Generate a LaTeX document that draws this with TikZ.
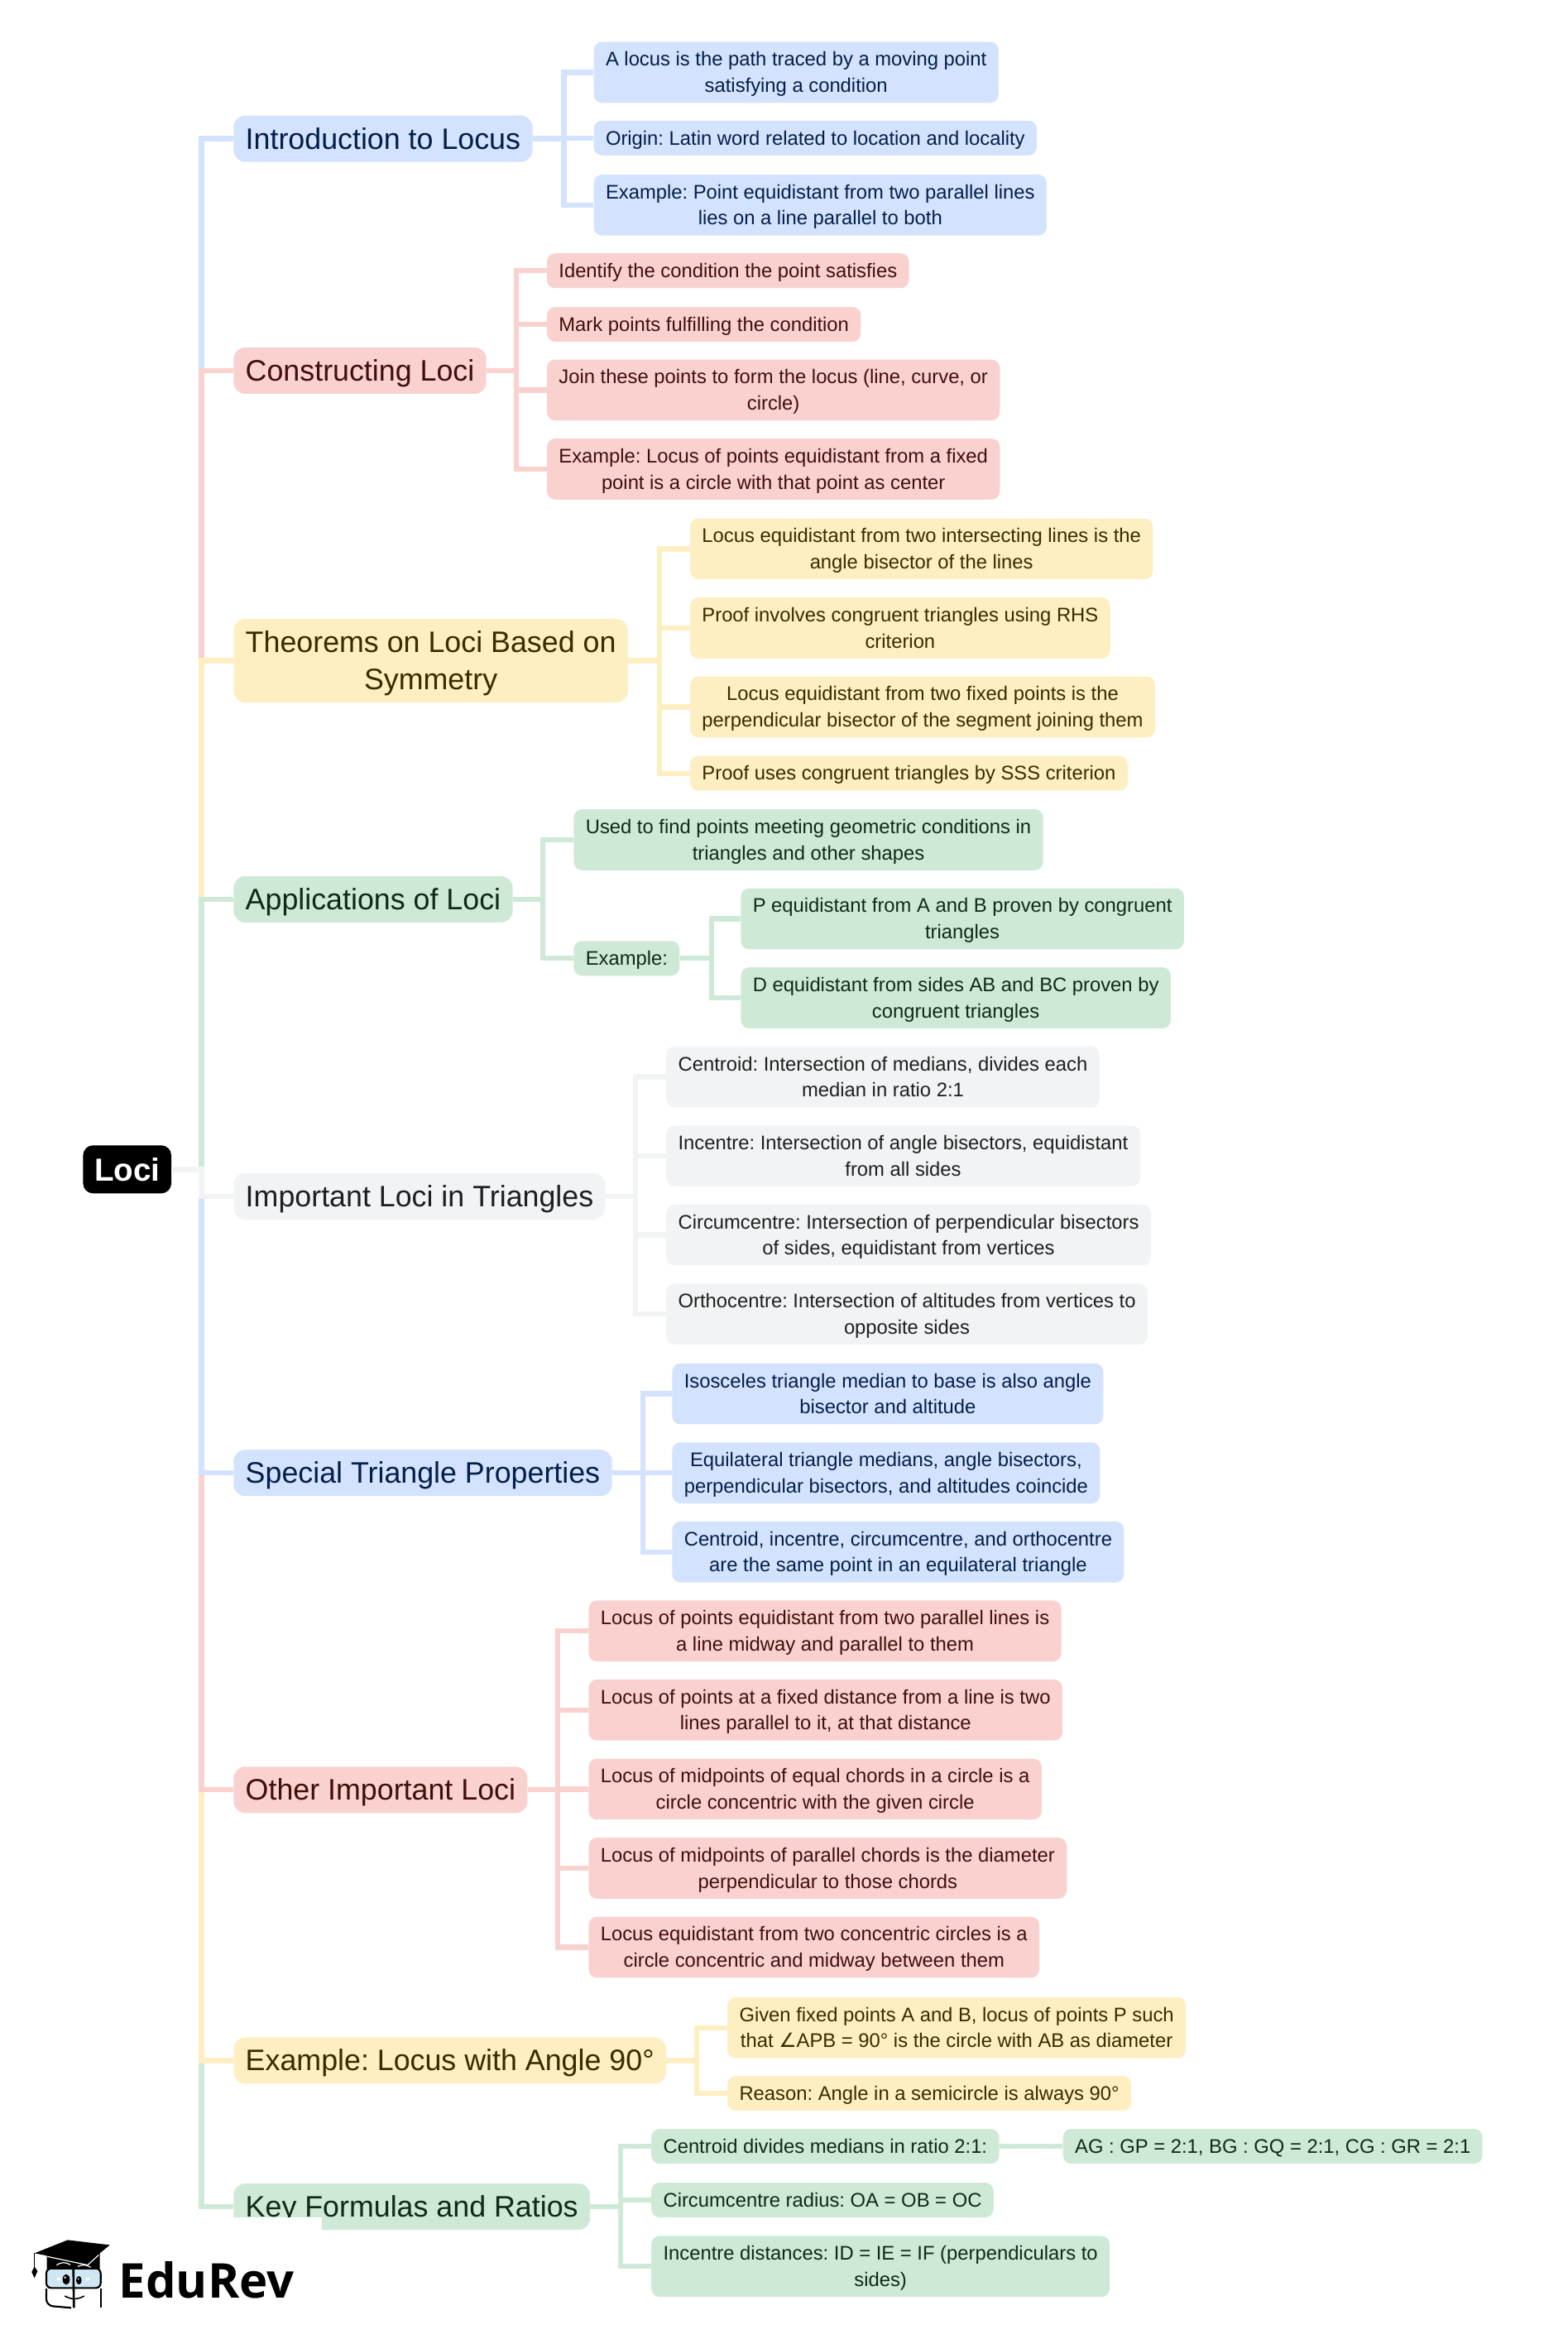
\documentclass[tikz,border=0pt]{standalone}
\usepackage{fontspec}
\setmainfont{Liberation Sans}
\newfontfamily\symfont{DejaVu Sans}
\newfontfamily\logofont{Open Sans}
\definecolor{lblue}{HTML}{D3E3FD}
\definecolor{lred}{HTML}{F9D2CF}
\definecolor{lyellow}{HTML}{FEEFC3}
\definecolor{lgreen}{HTML}{CEEAD6}
\definecolor{lgray}{HTML}{F1F3F4}
\definecolor{tblue}{HTML}{041E49}
\definecolor{tred}{HTML}{410E0B}
\definecolor{tyellow}{HTML}{3A2A00}
\definecolor{tgreen}{HTML}{0D2B17}
\definecolor{tgray}{HTML}{1F1F1F}
\definecolor{lens}{HTML}{CFE6F5}
\newcommand{\linestrut}{\rule[\dimexpr-.5\baselineskip+.3465em\relax]{0pt}{\baselineskip}}
\frenchspacing
\begin{document}
\begin{tikzpicture}[x=0.90135pt, y=-0.90135pt,
  rootnode/.style = {fill=black, text=white, rounded corners=6pt, anchor=west, font=\fontsize{19.3}{23}\selectfont\bfseries, inner xsep=6.8pt, minimum height=29pt},
  stem/.style = {execute at begin node=\linestrut, execute at end node=\linestrut},
  main/.style = {stem, rounded corners=7pt, anchor=west, align=center, inner xsep=7.2pt, inner ysep=2.7pt, font=\fontsize{17.9}{22.6}\selectfont},
  leaf/.style = {stem, rounded corners=5pt, anchor=west, align=center, xshift=-0.5pt, inner xsep=7.2pt, inner ysep=2.6pt, font=\fontsize{11.9}{15.8}\selectfont},
  dleaf/.style = {leaf, text height=27.86pt},
  bluebox/.style = {fill=lblue, text=tblue},
  redbox/.style = {fill=lred, text=tred},
  yellowbox/.style = {fill=lyellow, text=tyellow},
  greenbox/.style = {fill=lgreen, text=tgreen},
  graybox/.style = {fill=lgray, text=tgray},
  link/.style = {line width=3.2pt}]
\useasboundingbox (0,0) rectangle (1051.2,1568.2);
\node[rootnode] (loci) at (55.5,784) {Loci};
% first branch
\node[main, bluebox] (intro) at (156.4,93) {Introduction to Locus};
\node[dleaf, bluebox] (intro1) at (398.4,48.5) {A locus is the path traced by a moving point\\satisfying a condition};
\node[leaf, bluebox] (intro2) at (398.4,92.5) {Origin: Latin word related to location and locality};
\node[dleaf, bluebox] (intro3) at (398.4,137.5) {Example: Point equidistant from two parallel lines\\lies on a line parallel to both};
% second branch
\node[main, redbox] (cons) at (156.4,248.5) {Constructing Loci};
\node[leaf, redbox] (cons1) at (367,181.5) {Identify the condition the point satisfies};
\node[leaf, redbox] (cons2) at (367,217.5) {Mark points fulfilling the condition};
\node[dleaf, redbox] (cons3) at (367,261.5) {Join these points to form the locus (line, curve, or\\circle)};
\node[dleaf, redbox] (cons4) at (367,314.5) {Example: Locus of points equidistant from a fixed\\point is a circle with that point as center};
% third branch
\node[main, yellowbox, text height=40.1pt] (theo) at (156.4,443) {Theorems on Loci Based on\\Symmetry};
\node[dleaf, yellowbox] (theo1) at (463,368) {Locus equidistant from two intersecting lines is the\\angle bisector of the lines};
\node[dleaf, yellowbox] (theo2) at (463,421) {Proof involves congruent triangles using RHS\\criterion};
\node[dleaf, yellowbox] (theo3) at (463,474) {Locus equidistant from two fixed points is the\\perpendicular bisector of the segment joining them};
\node[leaf, yellowbox] (theo4) at (463,518.5) {Proof uses congruent triangles by SSS criterion};
% fourth branch
\node[main, greenbox] (appl) at (156.4,603) {Applications of Loci};
\node[dleaf, greenbox] (appl1) at (385,563) {Used to find points meeting geometric conditions in\\triangles and other shapes};
\node[leaf, greenbox] (appl2) at (385,642.5) {Example:};
\node[dleaf, greenbox] (appl3) at (497,616) {P equidistant from A and B proven by congruent\\triangles};
\node[dleaf, greenbox] (appl4) at (497,669) {D equidistant from sides AB and BC proven by\\congruent triangles};
% fifth branch
\node[main, graybox] (tria) at (156.4,802) {Important Loci in Triangles};
\node[dleaf, graybox] (tria1) at (447,722) {Centroid: Intersection of medians, divides each\\median in ratio 2:1};
\node[dleaf, graybox] (tria2) at (447,775) {Incentre: Intersection of angle bisectors, equidistant\\from all sides};
\node[dleaf, graybox] (tria3) at (447,828) {Circumcentre: Intersection of perpendicular bisectors\\of sides, equidistant from vertices};
\node[dleaf, graybox] (tria4) at (447,881) {Orthocentre: Intersection of altitudes from vertices to\\opposite sides};
% sixth branch
\node[main, bluebox] (spec) at (156.4,987.5) {Special Triangle Properties};
\node[dleaf, bluebox] (spec1) at (451,934.5) {Isosceles triangle median to base is also angle\\bisector and altitude};
\node[dleaf, bluebox] (spec2) at (451,987.5) {Equilateral triangle medians, angle bisectors,\\perpendicular bisectors, and altitudes coincide};
\node[dleaf, bluebox] (spec3) at (451,1040.5) {Centroid, incentre, circumcentre, and orthocentre\\are the same point in an equilateral triangle};
% seventh branch
\node[main, redbox] (other) at (156.4,1200) {Other Important Loci};
\node[dleaf, redbox] (other1) at (395,1093.5) {Locus of points equidistant from two parallel lines is\\a line midway and parallel to them};
\node[dleaf, redbox] (other2) at (395,1146.5) {Locus of points at a fixed distance from a line is two\\lines parallel to it, at that distance};
\node[dleaf, redbox] (other3) at (395,1199.5) {Locus of midpoints of equal chords in a circle is a\\circle concentric with the given circle};
\node[dleaf, redbox] (other4) at (395,1252.5) {Locus of midpoints of parallel chords is the diameter\\perpendicular to those chords};
\node[dleaf, redbox] (other5) at (395,1305.5) {Locus equidistant from two concentric circles is a\\circle concentric and midway between them};
% eighth branch
\node[main, yellowbox] (angle) at (156.4,1381.5) {Example: Locus with Angle 90°};
\node[dleaf, yellowbox] (angle1) at (488,1359.5) {Given fixed points A and B, locus of points P such\\that {\symfont ∠}APB = 90° is the circle with AB as diameter};
\node[leaf, yellowbox] (angle2) at (488,1403.5) {Reason: Angle in a semicircle is always 90°};
% ninth branch
\node[main, greenbox] (form) at (156.4,1479.5) {Key Formulas and Ratios};
\node[leaf, greenbox] (form1) at (437,1439) {Centroid divides medians in ratio 2:1:};
\node[leaf, greenbox] (form2) at (713,1439) {AG : GP = 2:1, BG : GQ = 2:1, CG : GR = 2:1};
\node[leaf, greenbox] (form3) at (437,1475) {Circumcentre radius: OA = OB = OC};
\node[dleaf, greenbox] (form4) at (437,1519.5) {Incentre distances: ID = IE = IF (perpendiculars to\\sides)};
% trunk and buses
\coordinate (trunk) at (135,784);
\coordinate (introbus) at (378,93);
\coordinate (consbus) at (346,248.5);
\coordinate (theobus) at (442,443);
\coordinate (applbus) at (364,603);
\coordinate (exbus) at (477,642.5);
\coordinate (triabus) at (426,802);
\coordinate (specbus) at (431,987.5);
\coordinate (otherbus) at (374,1200);
\coordinate (anglebus) at (467,1381.5);
\coordinate (formbus) at (416,1479.5);
% later links lie over earlier ones
\foreach \kid/\col in {intro/lblue, cons/lred, theo/lyellow, appl/lgreen, form/lgreen, angle/lyellow, other/lred, spec/lblue, tria/lgray}
  \draw[link, \col] (loci.east) -- (trunk) |- (\kid.west);
\foreach \kid in {intro1, intro2, intro3}
  \draw[link, lblue] (intro.east) -- (introbus) |- (\kid.west);
\foreach \kid in {cons1, cons2, cons3, cons4}
  \draw[link, lred] (cons.east) -- (consbus) |- (\kid.west);
\foreach \kid in {theo1, theo2, theo3, theo4}
  \draw[link, lyellow] (theo.east) -- (theobus) |- (\kid.west);
\foreach \kid in {appl1, appl2}
  \draw[link, lgreen] (appl.east) -- (applbus) |- (\kid.west);
\foreach \kid in {appl3, appl4}
  \draw[link, lgreen] (appl2.east) -- (exbus) |- (\kid.west);
\foreach \kid in {tria1, tria2, tria3, tria4}
  \draw[link, lgray] (tria.east) -- (triabus) |- (\kid.west);
\foreach \kid in {spec1, spec2, spec3}
  \draw[link, lblue] (spec.east) -- (specbus) |- (\kid.west);
\foreach \kid in {other1, other2, other3, other4, other5}
  \draw[link, lred] (other.east) -- (otherbus) |- (\kid.west);
\foreach \kid in {angle1, angle2}
  \draw[link, lyellow] (angle.east) -- (anglebus) |- (\kid.west);
\foreach \kid in {form1, form3, form4}
  \draw[link, lgreen] (form.east) -- (formbus) |- (\kid.west);
\draw[link, lgreen] (form1) -- (form2);
% logo patch
\fill[white] (0,1486.6) rectangle (215.6,1560.6);
\begin{scope}[shift={(16.64,1492.2)}, x=0.16666pt, y=-0.16666pt]
\fill[black] (80,105) -- (272,100) -- (272,158) -- (80,158) -- cycle;
\fill[black] (35,100) -- (155,52) -- (308,70) -- (228,137) -- cycle;
\draw[white, line width=0.6pt] (82,112) -- (228,143) -- (268,106);
\draw[white, line width=0.6pt] (115,143) to[bend left=35] (165,142);
\draw[white, line width=0.6pt] (192,148) to[bend left=30] (240,152);
\draw[line width=0.7pt] (35,100) -- (35,155);
\fill[black] (35,148) -- (46,165) -- (35,190) -- (25,168) -- cycle;
\draw[fill=lens, line width=1.1pt, rounded corners=3pt] (78,155) rectangle (275,226);
\draw[line width=1.1pt, rounded corners=4pt] (78,228) -- (78,290) -- (168,298);
\draw[line width=1.1pt, rounded corners=3pt] (275,228) -- (275,298);
\draw[line width=1.3pt] (176,155) -- (178,298);
\fill[black] (150,195) ellipse (13 and 19);
\fill[black] (196,198) ellipse (10 and 15);
\fill[white] (146,188) circle (4);
\fill[white] (194,193) circle (3);
\fill[white] (116,188) rectangle (128,198);
\fill[white] (222,188) rectangle (234,198);
\draw[line width=0.8pt] (145,255) to[bend right=30] (215,255);
\node[anchor=west, inner sep=0pt, font=\logofont\fontsize{29}{30}\selectfont\bfseries] (logo) at (340,196) {EduRev};
\end{scope}
\end{tikzpicture}
\end{document}
